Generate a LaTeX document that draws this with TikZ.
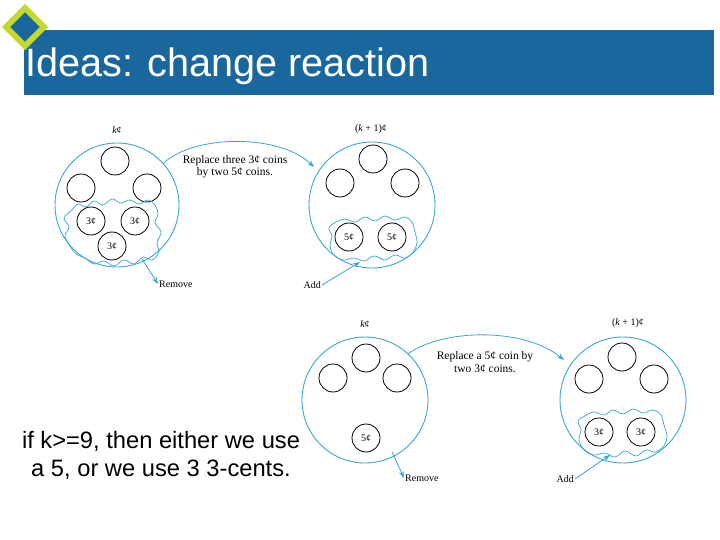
\documentclass[tikz,border=0pt]{standalone}
\usepackage{fontspec}
\setmainfont{Liberation Sans}
\newfontfamily\dserif{Liberation Serif}
\usetikzlibrary{arrows.meta}
\definecolor{titleblue}{HTML}{1A679D}
\definecolor{limeg}{HTML}{C5D82E}
\definecolor{cblue}{HTML}{3AA6D2}
\tikzset{
  bigc/.style={circle, draw=cblue, line width=0.9pt, minimum size=#1, inner sep=0pt},
  slot/.style={circle, draw=black, line width=0.8pt, minimum size=28pt, inner sep=0pt},
  coin/.style={circle, draw=black, line width=0.8pt, minimum size=28pt, inner sep=0pt, font=\dserif\fontsize{10}{12}\selectfont},
  wave/.style={draw=cblue, line width=0.7pt},
  arr/.style={draw=cblue, line width=0.8pt, -{Stealth[length=7pt,width=5pt]}},
  lab/.style={font=\dserif\fontsize{10}{12}\selectfont, inner sep=1pt},
  capt/.style={font=\dserif\fontsize{11.5}{12.5}\selectfont, align=center, inner sep=0pt}
}
\begin{document}
\begin{tikzpicture}[x=1pt,y=-1pt]
\useasboundingbox (0,0) rectangle (720,540);
\fill[white] (0,0) rectangle (720,540);
% title
\node[fill=titleblue, minimum width=690pt, minimum height=65pt, inner sep=0pt, anchor=north west] (bar) at (24,30) {};
\draw[limeg, line width=6pt, fill=titleblue] (25,8) -- (44,27) -- (25,46) -- (6,27) -- cycle;
\node[anchor=base west, text=white, inner sep=0pt, font=\fontsize{39.6}{40}\selectfont] (title) at (25,77) {Ideas: change reaction};

% ---------- top-left
\node[lab] (kA) at (117,130) {{\itshape k}¢};
\node[bigc=124pt] (A) at (117,205) {};
\node[slot] (A1) at (115,161) {};
\node[slot] (A2) at (81,188) {};
\node[slot] (A3) at (147,188) {};
\node[coin] (A4) at (91,221) {3¢};
\node[coin] (A5) at (135,221) {3¢};
\node[coin] (A6) at (112,246) {3¢};
\draw[wave] plot[smooth cycle, tension=0.6] coordinates {(72,210) (78,204) (86,207) (94,201) (103,205) (112,199) (121,203) (130,200) (139,204) (148,200) (155,205) (158,214) (155,223) (161,232) (157,243) (159,252) (152,260) (143,257) (134,264) (124,260) (114,266) (104,261) (94,264) (85,258) (76,254) (70,246) (65,236) (69,227) (64,218)};
\coordinate (rmA) at (142,259);
\node[lab, anchor=west] (remA) at (158,284) {Remove};
\draw[arr] (rmA) -- (remA.west);

% ---------- top-right
\node[lab] (kB) at (371,129) {({\itshape k} + 1)¢};
\node[bigc=126pt] (B) at (372,205) {};
\node[slot] (B1) at (373,159) {};
\node[slot] (B2) at (340,183) {};
\node[slot] (B3) at (405,183) {};
\node[coin] (B4) at (349,237) {5¢};
\node[coin] (B5) at (392,237) {5¢};
\draw[wave] plot[smooth cycle, tension=0.6] coordinates {(336,222) (345,219) (355,222) (365,217) (375,221) (385,216) (395,220) (405,217) (412,222) (415,232) (417,243) (413,252) (405,258) (395,255) (385,260) (374,256) (364,261) (354,258) (343,260) (333,254) (330,245) (332,236) (329,228)};
\node[lab, anchor=east] (addB) at (322,285) {Add};
\coordinate (adB) at (360,262);
\draw[arr] (addB.east) -- (adB);

% top connector
\coordinate (tA) at (314,167);
\draw[arr] (A.42) .. controls (195,134) and (280,134) .. (tA);
\node[capt] (capA) at (235,167) {Replace three 3¢ coins\\by two 5¢ coins.};

% ---------- bottom-left
\node[lab] (kC) at (365,324) {{\itshape k}¢};
\node[bigc=126pt] (C) at (365,400) {};
\node[slot] (C1) at (366,358) {};
\node[slot] (C2) at (333,378) {};
\node[slot] (C3) at (397,378) {};
\node[coin] (C4) at (366,438) {5¢};
\coordinate (rmC) at (392,452);
\node[lab, anchor=west] (remC) at (404,478) {Remove};
\draw[arr] (rmC) -- (remC.west);

% ---------- bottom-right
\node[lab] (kD) at (628,323) {({\itshape k} + 1)¢};
\node[bigc=126pt] (D) at (623,400) {};
\node[slot] (D1) at (622,357) {};
\node[slot] (D2) at (589,379) {};
\node[slot] (D3) at (654,379) {};
\node[coin] (D4) at (599,432) {3¢};
\node[coin] (D5) at (641,432) {3¢};
\draw[wave] plot[smooth cycle, tension=0.6] coordinates {(585,416) (594,412) (604,415) (613,410) (623,414) (633,409) (643,413) (653,410) (661,415) (664,425) (667,437) (663,447) (655,452) (646,450) (636,456) (625,451) (615,457) (605,453) (594,455) (584,450) (579,440) (581,430) (578,421)};
\node[lab, anchor=east] (addD) at (575,479) {Add};
\coordinate (adD) at (610,455);
\draw[arr] (addD.east) -- (adD);

% bottom connector
\coordinate (tC) at (564,360);
\draw[arr] (C.47) .. controls (445,328) and (525,328) .. (tC);
\node[capt] (capC) at (485,362) {Replace a 5¢ coin by\\two 3¢ coins.};

% bottom text
\node[align=center, inner sep=0pt, font=\fontsize{23.7}{28}\selectfont] (txt) at (161,455) {if k>=9, then either we use\\a 5, or we use 3 3-cents.};
\end{tikzpicture}
\end{document}
